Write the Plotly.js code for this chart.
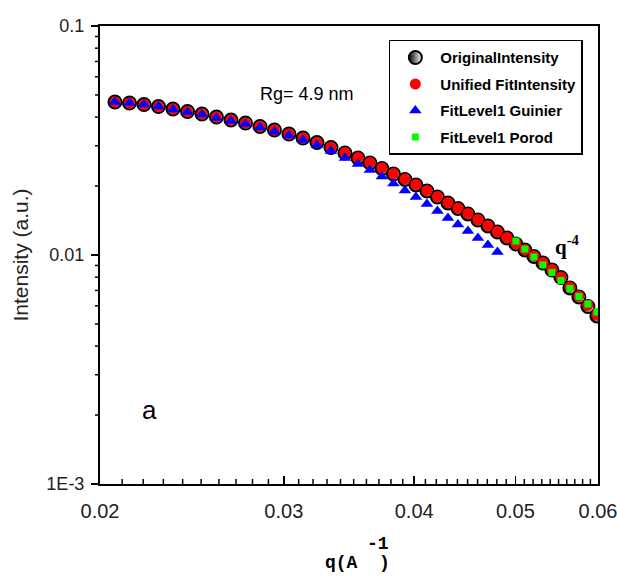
<!DOCTYPE html>
<html>
<head>
<meta charset="utf-8">
<script src="https://cdn.plot.ly/plotly-3.0.1.min.js"></script>
<style>html,body{margin:0;padding:0;background:#fff;}#chart{width:617px;height:576px;}</style>
</head>
<body>
<div id="chart"></div>
<script>
// q values (1/Å)
const qData = [0.02067,0.021345,0.022038,0.022754,0.023494,0.024257,0.025046,0.025859,0.0267,0.027567,
  0.028463,0.029388,0.030343,0.031295,0.032276,0.033288,0.034332,0.035331,0.036278,0.037251,
  0.038208,0.03919,0.040152,0.041138,0.042102,0.043089,0.04405,0.045032,0.046037,0.047063,
  0.04806,0.049078,0.050061,0.051065,0.052089,0.053133,0.054199,0.055285,0.056394,0.057524,
  0.058678,0.059854];
const originalIntensity = [0.04658,0.04611,0.04542,0.04451,0.04341,0.04233,0.04128,0.04005,0.03886,0.03771,
  0.03641,0.03515,0.03376,0.03243,0.03099,0.02947,0.02789,0.02652,0.02522,0.02386,
  0.02258,0.02137,0.02022,0.01904,0.01792,0.01688,0.01597,0.01511,0.01422,0.01339,
  0.01260,0.01187,0.01117,0.01051,0.009850,0.009228,0.008600,0.007975,0.007177,0.006556,
  0.005957,0.005414];
const unifiedFit = [0.04658,0.04611,0.04542,0.04451,0.04341,0.04233,0.04128,0.04005,0.03886,0.03771,
  0.03641,0.03515,0.03376,0.03243,0.03099,0.02947,0.02803,0.02665,0.02535,0.02398,
  0.02269,0.02148,0.02032,0.01914,0.01801,0.01697,0.01605,0.01519,0.01429,0.01346,
  0.01266,0.01193,0.01123,0.01056,0.009900,0.009275,0.008643,0.008015,0.007249,0.006622,
  0.006048,0.005497];
const qGuinier = qData.slice(0, 31);
const guinierFit = [0.04658,0.04611,0.04542,0.04451,0.04319,0.04212,0.04107,0.03965,0.03847,0.03733,
  0.03605,0.03462,0.03325,0.03177,0.03023,0.02846,0.02652,0.02497,0.02350,0.02202,
  0.02052,0.01913,0.01792,0.01670,0.01557,0.01451,0.01359,0.01273,0.01187,0.01106,
  0.01031];
const qPorod = [0.050061,0.051065,0.052089,0.053133,0.054199,0.055285,0.056394,0.057524,0.058678,0.059854];
const porodFit = [0.01151,0.01062,0.009801,0.009045,0.008389,0.007737,0.007140,0.006589,0.006110,0.005638];

const xTickVals = [0.02,0.03,0.04,0.05,0.06];
const xTickText = ['0.02','0.03','0.04','0.05','0.06'];
const yTickVals = [0.001,0.01,0.1];
const yTickText = ['1E-3','0.01','0.1'];
const seriesNames = ['OriginalIntensity','Unified FitIntensity','FitLevel1 Guinier','FitLevel1 Porod'];

// minor tick positions (axis decoration)
const xMinor = [];
for (let k = 21; k < 60; k++) { if (k % 10 !== 0) xMinor.push(k / 1000); }
const yMinor = [];
[0.001, 0.01].forEach(d => { for (let m = 2; m <= 9; m++) yMinor.push(+(m * d).toFixed(4)); });

const legFont = {family: 'Liberation Sans Narrow, Arial Narrow, Liberation Sans, sans-serif', size: 15, color: '#000', weight: 'bold'};
const xRange = [Math.log10(0.02), Math.log10(0.06)];

const traces = [
  {x: qData, y: originalIntensity, name: seriesNames[0], mode: 'markers', type: 'scatter', legendgroup: 'a',
   marker: {symbol: 'circle', size: 13, color: '#000', gradient: {type: 'horizontal', color: '#fff'}, line: {color: '#000', width: 2}}},
  {x: qData, y: unifiedFit, name: seriesNames[1], mode: 'markers', type: 'scatter', legendgroup: 'b',
   marker: {symbol: 'circle', size: 11, color: '#ff0000', line: {width: 0}}},
  {x: qGuinier, y: guinierFit, name: seriesNames[2], mode: 'markers', type: 'scatter', legendgroup: 'c',
   marker: {symbol: 'triangle-up', size: 11, color: '#0000ff', line: {width: 0}}},
  {x: qPorod, y: porodFit, name: seriesNames[3], mode: 'markers', type: 'scatter', legendgroup: 'd',
   marker: {symbol: 'square', size: 7, color: '#00ff00', line: {width: 0}}}
];

const tickFontX = {family: 'Liberation Sans, Arial, sans-serif', size: 20, color: '#222'};
const tickFontY = {family: 'Liberation Sans, Arial, sans-serif', size: 18, color: '#222'};

// minor ticks as shapes (data coordinates on the log axes)
const shapes = [];
xMinor.forEach(v => shapes.push({type: 'line', xref: 'x', yref: 'paper', x0: v, x1: v,
  y0: 0, y1: 5 / 458, line: {color: '#000', width: 1.5}}));
yMinor.forEach(v => shapes.push({type: 'line', xref: 'paper', yref: 'y', y0: v, y1: v,
  x0: -5 / 498, x1: 0, line: {color: '#000', width: 1.5}}));

const layout = {
  width: 617, height: 576,
  margin: {l: 100, r: 19, t: 26, b: 92},
  paper_bgcolor: '#fff', plot_bgcolor: '#fff',
  showlegend: true,
  legend: {x: 0.58, y: 0.97, xanchor: 'left', yanchor: 'top', bgcolor: '#fff', bordercolor: '#000', borderwidth: 1.5,
           font: legFont, traceorder: 'grouped', tracegroupgap: 4, itemwidth: 40},
  xaxis: {type: 'log', range: xRange, tickmode: 'array', tickvals: xTickVals, ticktext: xTickText,
          ticks: 'inside', ticklen: 8, tickwidth: 1.5, tickcolor: '#000', showline: true, linecolor: '#000', linewidth: 2, mirror: true,
          showgrid: false, zeroline: false, ticklabelstandoff: 8, ticklabeloverflow: 'allow', tickfont: tickFontX},
  yaxis: {type: 'log', range: [-3, -1], tickmode: 'array', tickvals: yTickVals, ticktext: yTickText,
          ticks: 'outside', ticklen: 7, tickwidth: 1.5, tickcolor: '#000', showline: true, linecolor: '#000', linewidth: 2, mirror: true,
          showgrid: false, zeroline: false, ticklabelstandoff: 3, tickfont: tickFontY,
          title: {text: 'Intensity (a.u.)', font: {family: 'Liberation Sans, Arial, sans-serif', size: 21, color: '#222'}, standoff: 12}},
  shapes: shapes,
  annotations: [
    {xref: 'x', yref: 'y', x: Math.log10(0.0316), y: Math.log10(0.0505), text: 'Rg= 4.9 nm', showarrow: false,
     font: {family: 'Liberation Sans, Arial, sans-serif', size: 18, color: '#000'}},
    {xref: 'x', yref: 'y', x: Math.log10(0.0561), y: Math.log10(0.0110), text: '<b>q<sup>-4</sup></b>', showarrow: false,
     xanchor: 'center', yanchor: 'middle',
     font: {family: 'Liberation Serif, Times New Roman, serif', size: 21, color: '#000'}},
    {xref: 'x', yref: 'y', x: Math.log10(0.0223), y: Math.log10(0.0021), text: 'a', showarrow: false,
     font: {family: 'Liberation Sans, Arial, sans-serif', size: 26, color: '#000'}},
    {xref: 'paper', yref: 'paper', x: (357 - 100) / 498, y: (484 - 563) / 458, text: '<b>q(A  )</b>', showarrow: false,
     xanchor: 'center', yanchor: 'middle',
     font: {family: 'Liberation Mono, Courier New, monospace', size: 18, color: '#000'}},
    {xref: 'paper', yref: 'paper', x: (378 - 100) / 498, y: (484 - 544) / 458, text: '<b>-1</b>', showarrow: false,
     xanchor: 'center', yanchor: 'middle',
     font: {family: 'Liberation Mono, Courier New, monospace', size: 18, color: '#000'}}
  ]
};

Plotly.newPlot('chart', traces, layout, {displayModeBar: false, staticPlot: true});
</script>
</body>
</html>
